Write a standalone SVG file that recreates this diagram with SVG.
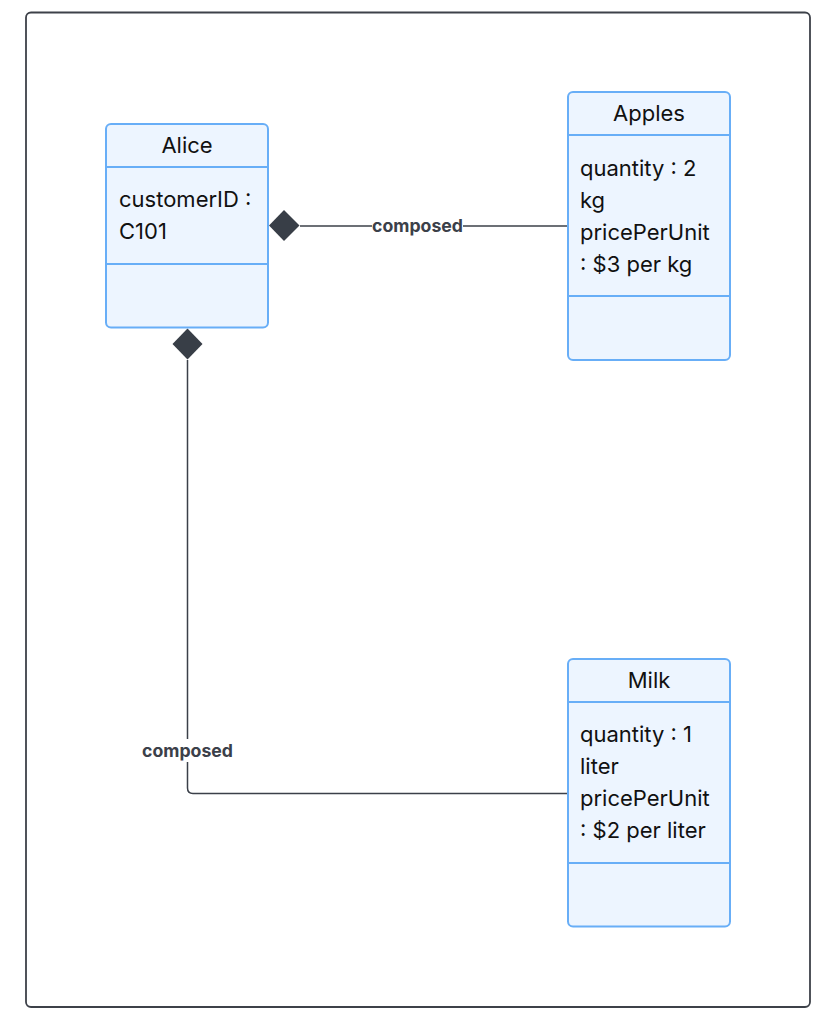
<svg xmlns="http://www.w3.org/2000/svg" width="834" height="1036" viewBox="0 0 834 1036">
<style>
.box{fill:#EDF5FF;stroke:#68AEF7;stroke-width:2}
.div{stroke:#68AEF7;stroke-width:2}
.title{font-family:Inter,"Noto Sans",sans-serif;font-size:22px;fill:#111;text-anchor:middle}
.attr{font-family:Inter,"Noto Sans",sans-serif;font-size:22px;fill:#111}
.edge{fill:none;stroke:#3B4049;stroke-width:1.5}
.lbl{font-family:Inter,"Noto Sans",sans-serif;font-size:17.7px;font-weight:bold;fill:#3B4049;text-anchor:middle}
.lblbg{fill:#fff}
.dia{fill:#383E47}
</style>
<rect x="0" y="0" width="834" height="1036" fill="#fff"/>
<rect x="26" y="12.5" width="784" height="994.5" rx="5" fill="#fff" stroke="#3D4149" stroke-width="1.8"/>
<g id="connectors">
  <path class="edge" d="M300,226 H568"/>
  <path class="edge" d="M187.5,360 V788 Q187.5,793.5 193,793.5 H568"/>
  <rect class="lblbg" x="372" y="215" width="91" height="22"/>
  <text class="lbl" x="417.5" y="232">composed</text>
  <rect class="lblbg" x="142" y="739" width="91" height="23"/>
  <text class="lbl" x="187.5" y="756.5">composed</text>
  <polygon class="dia" points="269,225.5 284,210 299.5,225.5 284,241"/>
  <polygon class="dia" points="172.5,344 187.5,328.5 202.5,344 187.5,359.5"/>
</g>
<g id="Alice">
  <rect class="box" x="106" y="124" width="162" height="203.5" rx="5"/>
  <line class="div" x1="106" y1="167" x2="268" y2="167"/>
  <line class="div" x1="106" y1="264" x2="268" y2="264"/>
  <text class="title" x="187" y="153">Alice</text>
  <text class="attr" x="119" y="207">customerID :</text>
  <text class="attr" x="119" y="239">C101</text>
</g>
<g id="Apples">
  <rect class="box" x="568" y="92" width="162" height="268" rx="5"/>
  <line class="div" x1="568" y1="135" x2="730" y2="135"/>
  <line class="div" x1="568" y1="296" x2="730" y2="296"/>
  <text class="title" x="649" y="121">Apples</text>
  <text class="attr" x="580" y="176">quantity : 2</text>
  <text class="attr" x="580" y="208">kg</text>
  <text class="attr" x="580" y="240">pricePerUnit</text>
  <text class="attr" x="580" y="272">: $3 per kg</text>
</g>
<g id="Milk">
  <rect class="box" x="568" y="659" width="162" height="267.5" rx="5"/>
  <line class="div" x1="568" y1="702" x2="730" y2="702"/>
  <line class="div" x1="568" y1="863" x2="730" y2="863"/>
  <text class="title" x="649" y="688">Milk</text>
  <text class="attr" x="580" y="742">quantity : 1</text>
  <text class="attr" x="580" y="774">liter</text>
  <text class="attr" x="580" y="806">pricePerUnit</text>
  <text class="attr" x="580" y="838">: $2 per liter</text>
</g>
</svg>
